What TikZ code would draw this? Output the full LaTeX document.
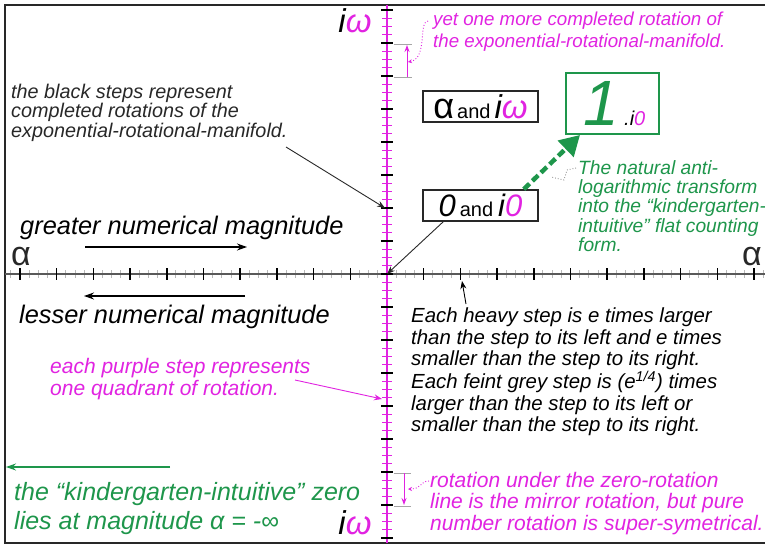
\documentclass[tikz,border=0pt]{standalone}
\usepackage{fontspec}
\setmainfont{Liberation Sans}
\usetikzlibrary{arrows.meta,calc}
\definecolor{mag}{RGB}{225,35,225}
\definecolor{grn}{RGB}{30,150,75}
\definecolor{dark}{RGB}{40,40,40}
\newcommand\fs[2]{\fontsize{#1}{#2}\selectfont}
\begin{document}
\begin{tikzpicture}[x=1pt,y=-1pt,
  txt/.style={inner sep=0pt, anchor=north west, align=left},
  lbl/.style={inner sep=0pt},
  box/.style={draw=dark, line width=1.5pt, minimum width=115pt, minimum height=31pt, inner sep=0pt},
  thinarrow/.style={-{Stealth[length=8pt,width=6pt]}, line width=0.9pt},
  grayguide/.style={gray!70, line width=0.6pt},
]
\useasboundingbox (0,0) rectangle (765,548);
\fill[white] (0,0) rectangle (765,548);

% frame
\draw[dark, line width=1.5pt] (765,5) -- (5,5) -- (5,543) -- (765,543);

% horizontal axis
\draw[gray!55, line width=1pt] foreach \k in {-41,...,41} {({387+\k*9.175},270) -- ++(0,8)};
\draw[black!65, line width=2pt] (5,274) -- (765,274);
\draw[black, line width=1.5pt] foreach \k in {-10,...,10} {({387+\k*36.7},268) -- ++(0,12)};

% vertical axis
\draw[mag, line width=1pt] foreach \k in {-32,...,32} {(382,{274+\k*8.25}) -- ++(10,0)};
\draw[mag, line width=2pt] (387,5) -- (387,543);
\draw[black, line width=1.5pt] foreach \k in {-8,...,8} {(381,{274+\k*33}) -- ++(12,0)};
\coordinate (O) at (387,274);

% axis labels
\node[lbl, font=\fs{33}{33}\itshape] (iwtop) at (355,21) {i\textcolor{mag}{ω}};
\node[lbl, font=\fs{33}{33}\itshape] (iwbot) at (355,523) {i\textcolor{mag}{ω}};
\node[lbl, text=dark, font=\fs{34}{34}] (aleft) at (21,257) {α};
\node[lbl, text=dark, font=\fs{34}{34}] (aright) at (752,257) {α};

% boxes
\node[box] (alpha) at (480.5,106.5) {{\fs{36}{36}α}\hspace{3pt}{\fs{20}{20}and}\hspace{4pt}{\fs{33}{33}\itshape i\textcolor{mag}{ω}}};
\node[box] (zero) at (480.5,205.5) {{\fs{31}{31}\itshape 0}\hspace{4pt}{\fs{20}{20}and}\hspace{5pt}{\fs{31}{31}\itshape i\textcolor{mag}{0}}};
\node[box, draw=grn, line width=2pt, minimum width=93pt, minimum height=61pt] (one) at (612.5,103.5)
  {\hspace{4pt}{\fs{64}{64}\itshape\color{grn}1}\hspace{5pt}{\fs{20}{20}\itshape .i\textcolor{mag}{0}}};

% green dashed transform arrow
\draw[grn, line width=4.5pt, dash pattern=on 8pt off 4pt, -{Triangle[length=20pt,width=22pt]}]
  ($(zero.north east)+(-15,0)$) -- ($(one.south west)+(15,0)$);
\draw[gray, dotted, line width=0.8pt] (576,168) -- (567,170) -- (564,180) -- (551,177);

% zero box to origin
\draw[thinarrow, dark] ($(zero.south west)+(21,0)$) -- (O);

% left black text
\node[txt, text=dark, font=\fs{19.8}{19.3}\itshape] (blk) at (11,84)
  {the black steps represent\\completed rotations of the\\exponential-rotational-manifold.};
\coordinate (blkend) at (286,147);
\coordinate (tick208) at (385,208);
\draw[thinarrow, dark] (blkend) -- (tick208);

% magnitudes
\node[txt, font=\fs{25.4}{25.4}\itshape] (greater) at (20,216) {greater numerical magnitude};
\coordinate (g1) at (85,247); \coordinate (g2) at (247,247);
\draw[line width=1.2pt, -{Stealth[length=10pt,width=7pt]}] (g1) -- (g2);
\node[txt, font=\fs{25.4}{25.4}\itshape] (lesser) at (19,305) {lesser numerical magnitude};
\coordinate (l1) at (245,296); \coordinate (l2) at (84,296);
\draw[line width=1.2pt, -{Stealth[length=10pt,width=7pt]}] (l1) -- (l2);

% top-right annotation
\draw[grayguide] (394,44) -- (412,44) (394,77) -- (412,77);
\coordinate (tA) at (407,77); \coordinate (tB) at (407,45);
\draw[mag, line width=1pt, -{Stealth[length=7pt,width=5pt]}] (tA) -- (tB);
\node[txt, text=mag, font=\fs{18.7}{22}\itshape] (yet) at (433,12)
  {yet one more completed rotation of\\the exponential-rotational-manifold.};
\coordinate (yetend) at (408,62);
\draw[mag, dotted, line width=0.9pt, -{Stealth[length=4pt,width=4pt]}]
  ($(yet.north west)+(-5,9)$) .. controls (418,22) and (428,58) .. (yetend);

% green transform text
\node[txt, text=grn, font=\fs{19.2}{19.3}\itshape] (nat) at (578,160)
  {The natural anti-\\logarithmic transform\\into the “kindergarten-\\intuitive” flat counting\\form.};

% right black text
\node[txt, font=\fs{20.4}{21.4}\itshape] (heavy) at (411,308)
  {Each heavy step is e times larger\\than the step to its left and e times\\smaller than the step to its right.\\Each feint grey step is (e\textsuperscript{1/4}) times\\larger than the step to its left or\\smaller than the step to its right.};
\coordinate (h1) at (466,304); \coordinate (h2) at (462,281);
\draw[thinarrow] (h1) -- (h2);

% left magenta text
\node[txt, text=mag, font=\fs{21}{22}\itshape] (purp) at (50,358)
  {each purple step represents\\one quadrant of rotation.};
\coordinate (p1) at (295,380); \coordinate (p2) at (382,399);
\draw[thinarrow, mag] (p1) -- (p2);

% bottom-right annotation
\draw[grayguide] (394,473) -- (411,473) (394,506) -- (411,506);
\coordinate (bA) at (404,473); \coordinate (bB) at (404,505);
\draw[mag, line width=1pt, -{Stealth[length=7pt,width=5pt]}] (bA) -- (bB);
\node[txt, text=mag, font=\fs{21}{21.5}\itshape] (mirror) at (430,472)
  {rotation under the zero-rotation\\line is the mirror rotation, but pure\\number rotation is super-symetrical.};
\coordinate (mend) at (408,489);
\draw[mag, dotted, line width=0.9pt, -{Stealth[length=4pt,width=4pt]}]
  ($(mirror.north west)+(-1,9)$) .. controls (420,481) and (422,489) .. (mend);

% bottom-left green
\coordinate (z1) at (170,467); \coordinate (z2) at (6,467);
\draw[grn, line width=1.2pt, -{Stealth[length=10pt,width=7pt]}] (z1) -- (z2);
\node[txt, text=grn, font=\fs{25}{29}\itshape] (kzero) at (14,482)
  {the “kindergarten-intuitive” zero\\lies at magnitude α = -∞};
\end{tikzpicture}
\end{document}
